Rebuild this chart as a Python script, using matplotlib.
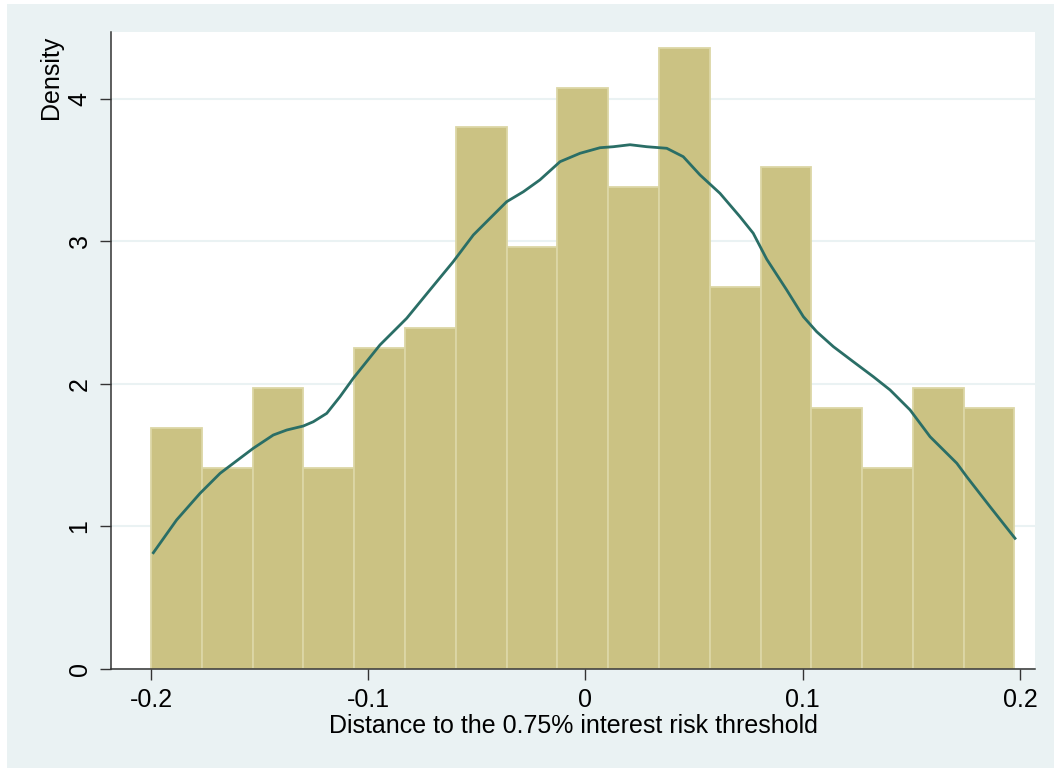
import matplotlib
matplotlib.use("Agg")
import matplotlib.pyplot as plt
from matplotlib.patches import Rectangle
import numpy as np

# --- DATA ---

# histogram: 17 equal bins starting at -0.2
bin_start = -0.2
bin_width = 0.02338
density = [1.69, 1.41, 1.97, 1.41, 2.25, 2.39, 3.80, 2.96, 4.08,
           3.38, 4.36, 2.68, 3.52, 1.83, 1.41, 1.97, 1.83]

# kernel density estimate
kde_x = [-0.1989, -0.1882, -0.1774, -0.1682, -0.1590, -0.1529, -0.1437, -0.1375,
         -0.1299, -0.1253, -0.1191, -0.1130, -0.1069, -0.0946, -0.0823, -0.0716,
         -0.0609, -0.0516, -0.0455, -0.0363, -0.0286, -0.0210, -0.0117, -0.0025,
         0.0067, 0.0128, 0.0205, 0.0282, 0.0374, 0.0450, 0.0527, 0.0619,
         0.0711, 0.0772, 0.0834, 0.0926, 0.1003, 0.1064, 0.1141, 0.1233,
         0.1325, 0.1402, 0.1494, 0.1586, 0.1709, 0.1755, 0.1862, 0.1977]
kde_y = [0.816, 1.046, 1.233, 1.373, 1.479, 1.549, 1.642, 1.677,
         1.705, 1.735, 1.794, 1.911, 2.040, 2.274, 2.461, 2.660,
         2.858, 3.046, 3.139, 3.279, 3.349, 3.432, 3.560, 3.619,
         3.658, 3.665, 3.679, 3.665, 3.654, 3.595, 3.467, 3.338,
         3.174, 3.058, 2.876, 2.660, 2.472, 2.367, 2.262, 2.156,
         2.051, 1.958, 1.818, 1.630, 1.444, 1.349, 1.139, 0.917]

xticks = [-0.2, -0.1, 0, 0.1, 0.2]
xticklabels = ['-0.2', '-0.1', '0', '0.1', '0.2']
yticks = [0, 1, 2, 3, 4]

# --- STYLE ---

plt.rcParams['font.family'] = ['Liberation Sans', 'DejaVu Sans']
BG = '#eaf2f3'
BAR = '#cbc283'
BAR_EDGE = '#dcd7a6'
LINE = '#2a6e66'
AXIS = '#333333'
FS = 18

W, H = 1054, 769
fig = plt.figure(figsize=(W/100, H/100), dpi=100)
fig.patch.set_facecolor('white')
fig.patches.append(Rectangle((7/W, 1/H), 1 - 7/W, 1 - 5/H, transform=fig.transFigure,
                             facecolor=BG, edgecolor='none', zorder=-10))

ax = fig.add_axes([111/W, 100/H, 924/W, 637/H])
ax.set_facecolor('white')

# bars
edges = bin_start + bin_width*np.arange(len(density))
ax.bar(edges, density, width=bin_width, align='edge', color=BAR,
       edgecolor=BAR_EDGE, linewidth=1.3, zorder=2)

# kde line
ax.plot(kde_x, kde_y, color=LINE, linewidth=2.0, zorder=3)

ax.set_xlim(-0.2184, 0.2069)
ax.set_ylim(0, 4.47)

ax.set_yticks(yticks)
ax.set_xticks(xticks)
ax.set_xticklabels(xticklabels)
ax.grid(axis='y', color=BG, linewidth=1.5, zorder=0)
ax.set_axisbelow(True)

for s in ['top', 'right']:
    ax.spines[s].set_visible(False)
for s in ['left', 'bottom']:
    ax.spines[s].set_color(AXIS)
    ax.spines[s].set_linewidth(1.1)

ax.tick_params(axis='both', direction='out', length=8, width=1.0, color=AXIS,
               labelsize=FS, pad=6)
ax.tick_params(axis='y', labelrotation=90)
for lbl in ax.get_yticklabels():
    lbl.set_va('center')

ax.set_xlabel('Distance to the 0.75% interest risk threshold', fontsize=FS, labelpad=1)
ax.set_ylabel('Density', fontsize=FS)
ax.yaxis.set_label_coords(-0.052, 0.928)

fig.savefig('out.png', dpi=100, facecolor=fig.get_facecolor())
